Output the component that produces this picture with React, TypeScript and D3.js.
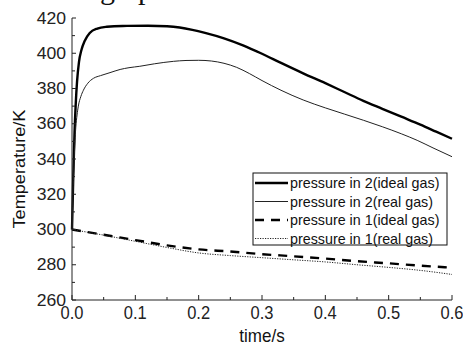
import React from "react";
import * as d3 from "d3";

const xTicks = [0, 0.1, 0.2, 0.3, 0.4, 0.5, 0.6];
const yTicks = [260, 280, 300, 320, 340, 360, 380, 400, 420];

const p2IdealT = [0, 0.002, 0.004, 0.006, 0.008, 0.011, 0.015, 0.02, 0.028, 0.04, 0.055, 0.08, 0.12, 0.15, 0.17, 0.19, 0.21, 0.24, 0.27, 0.3, 0.33, 0.365, 0.4, 0.43, 0.46, 0.49, 0.52, 0.55, 0.575, 0.6];
const p2IdealV = [300, 330, 355, 372, 384, 395, 402, 407, 411.5, 414, 415, 415.5, 415.6, 415.3, 414.6, 413.3, 411.6, 408.5, 404.5, 399.7, 394.5, 388.6, 383, 378, 373, 368.5, 364, 359.5, 355.5, 351.5];

const p2RealT = [0, 0.002, 0.004, 0.006, 0.008, 0.01, 0.014, 0.018, 0.025, 0.034, 0.045, 0.06, 0.076, 0.09, 0.107, 0.13, 0.16, 0.18, 0.2, 0.22, 0.24, 0.26, 0.28, 0.3, 0.33, 0.365, 0.4, 0.43, 0.46, 0.49, 0.52, 0.545, 0.57, 0.6];
const p2RealV = [300, 325, 345, 358, 365, 370, 375.5, 379, 383, 385.8, 387.3, 389, 390.8, 391.8, 392.6, 394, 395.4, 395.9, 396, 395.6, 394.3, 392, 388.5, 384.5, 379, 373.5, 369, 365.5, 362, 358.3, 354.3, 350.6, 346.3, 341.3];

const p1IdealT = [0, 0.05, 0.1, 0.15, 0.2, 0.25, 0.3, 0.35, 0.4, 0.45, 0.5, 0.55, 0.6];
const p1IdealV = [300, 297, 294, 291, 288.7, 287.5, 286, 284.8, 283.5, 282, 280.8, 279.5, 278.3];

const p1RealT = [0, 0.05, 0.1, 0.15, 0.2, 0.25, 0.3, 0.35, 0.4, 0.45, 0.5, 0.55, 0.6];
const p1RealV = [300, 296.8, 293.3, 289.8, 286.7, 285.2, 284, 282.8, 281.6, 280, 278.5, 276.8, 274.5];

const legendLabels = [
  "pressure in 2(ideal gas)",
  "pressure in 2(real gas)",
  "pressure in 1(ideal gas)",
  "pressure in 1(real gas)",
];

const W = 463;
const H = 347;
const ML = 72, MR = 452, MT = 18, MB = 300;

export default function App() {
  const x = d3.scaleLinear().domain([0, 0.6]).range([ML, MR]);
  const y = d3.scaleLinear().domain([260, 420]).range([MB, MT]);
  const line = d3
    .line<[number, number]>()
    .x((d) => x(d[0]))
    .y((d) => y(d[1]))
    .curve(d3.curveMonotoneX);
  const zip = (a: number[], b: number[]) => a.map((t, i) => [t, b[i]] as [number, number]);

  const series = [
    { d: zip(p2IdealT, p2IdealV), w: 2.4, dash: "", color: "#000" },
    { d: zip(p2RealT, p2RealV), w: 1, dash: "", color: "#222" },
    { d: zip(p1IdealT, p1IdealV), w: 2.4, dash: "9,7", color: "#000" },
    { d: zip(p1RealT, p1RealV), w: 1, dash: "1.2,1.3", color: "#222" },
  ];

  const xMinor = d3.range(0, 0.6001, 0.05);
  const yMinor = d3.range(260, 420.01, 10);
  const font = "Liberation Sans, Arial, sans-serif";

  const lgX = 253, lgY = 173, lgW = 194, lgH = 72;
  const rowY = [183, 201.5, 220, 238.5];

  return (
    <svg width={W} height={H} style={{ position: "absolute", left: 0, top: 0, background: "#fff" }}>
      <rect x={0} y={0} width={W} height={H} fill="#fff" />
      <text x={100} y={-1} fontFamily="Liberation Serif, Times New Roman, serif" fontSize={30} fill="#111">
        g<tspan x={138}>p</tspan>
      </text>

      {series.map((s, i) => (
        <path
          key={i}
          d={line(s.d) || ""}
          fill="none"
          stroke={s.color}
          strokeWidth={s.w}
          strokeDasharray={s.dash || undefined}
        />
      ))}

      {/* axes */}
      <line x1={ML} x2={ML} y1={MT} y2={MB} stroke="#222" strokeWidth={1} />
      <line x1={ML} x2={MR} y1={MB} y2={MB} stroke="#222" strokeWidth={1} />
      {xMinor.map((t, i) => (
        <line key={"xm" + i} x1={x(t)} x2={x(t)} y1={MB} y2={MB - (i % 2 === 0 ? 5 : 3)} stroke="#222" />
      ))}
      {yMinor.map((v, i) => (
        <line key={"ym" + i} x1={ML} x2={ML + (i % 2 === 0 ? 4 : 3)} y1={y(v)} y2={y(v)} stroke="#222" />
      ))}
      {xTicks.map((t) => (
        <text
          key={"xt" + t}
          transform={`translate(${x(t)},319) scale(1,1.1)`}
          textAnchor="middle"
          fontFamily={font}
          fontSize={16.5}
          fill="#222"
        >
          {t.toFixed(1)}
        </text>
      ))}
      {yTicks.map((v) => (
        <text
          key={"yt" + v}
          transform={`translate(66,${y(v) + 5.6}) scale(1.1,1)`}
          textAnchor="end"
          fontFamily={font}
          fontSize={16}
          fill="#222"
        >
          {v}
        </text>
      ))}
      <text
        transform={`translate(${x(0.3)},342) scale(1,1.1)`}
        textAnchor="middle"
        fontFamily={font}
        fontSize={17}
        fill="#111"
      >
        time/s
      </text>
      <text
        transform={`translate(25,169) rotate(-90) scale(1.1,1)`}
        textAnchor="middle"
        fontFamily={font}
        fontSize={16.5}
        fill="#111"
      >
        Temperature/K
      </text>

      {/* legend */}
      <rect x={lgX} y={lgY} width={lgW} height={lgH} fill="#fff" stroke="#111" strokeWidth={1} />
      {series.map((s, i) => (
        <g key={"lg" + i}>
          <line
            x1={lgX + 2}
            x2={lgX + 35}
            y1={rowY[i]}
            y2={rowY[i]}
            stroke={s.color}
            strokeWidth={s.w}
            strokeDasharray={s.dash || undefined}
          />
          <text x={lgX + 37} y={rowY[i] + 5} fontFamily={font} fontSize={14.3} fill="#111">
            {legendLabels[i]}
          </text>
        </g>
      ))}
    </svg>
  );
}
